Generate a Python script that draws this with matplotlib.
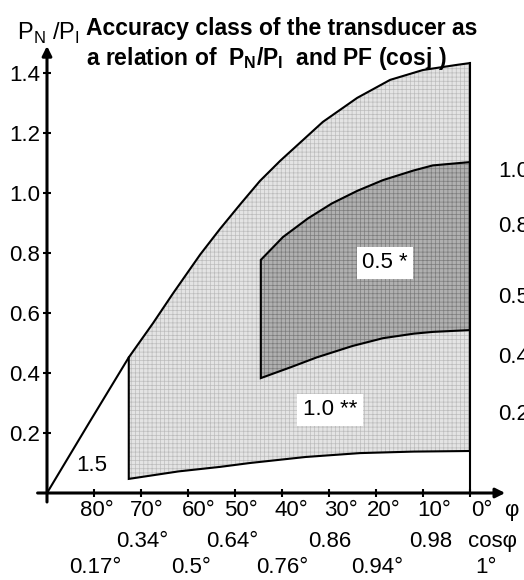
import matplotlib
matplotlib.use("Agg")
import matplotlib.pyplot as plt

plt.rcParams['font.family'] = ['Liberation Sans', 'DejaVu Sans']
plt.rcParams['mathtext.fontset'] = 'custom'
plt.rcParams['mathtext.rm'] = 'Liberation Sans'
plt.rcParams['hatch.linewidth'] = 0.5

# boundary curves (phi in degrees, P_N/P_I)
outer_phi = [90, 81, 72.6, 67.4, 63.2, 57.4, 53.2, 48.9, 44.7, 40.4, 36.2, 31.3, 24, 17, 10, 2.8, 0]
outer_val = [0, 0.235, 0.452, 0.567, 0.665, 0.795, 0.88, 0.962, 1.04, 1.107, 1.167, 1.237, 1.317,
             1.377, 1.41, 1.427, 1.433]

bottom_phi = [72.6, 62, 53.2, 46.8, 35, 23.4, 12, 0]
bottom_val = [0.047, 0.072, 0.087, 0.10, 0.12, 0.133, 0.138, 0.14]

top05_phi = [44.5, 39.8, 34.5, 29.4, 24, 18.5, 12, 7.9, 0]
top05_val = [0.777, 0.853, 0.915, 0.965, 1.007, 1.043, 1.075, 1.092, 1.103]

bot05_phi = [44.5, 38, 32.6, 25, 18.5, 12, 7.9, 0]
bot05_val = [0.383, 0.42, 0.452, 0.49, 0.516, 0.531, 0.537, 0.543]

phi_ticks = [80, 70, 60, 50, 40, 30, 20, 10, 0]
y_ticks = [0.2, 0.4, 0.6, 0.8, 1.0, 1.2, 1.4]
y_labels = ['0.2', '0.4', '0.6', '0.8', '1.0', '1.2', '1.4']

row1_labels = ['80°', '70°', '60°', '50°', '40°', '30°', '20°', '10°', '0°', 'φ']
row1_pos = [79.4, 68.7, 57.7, 48.7, 38.1, 27.4, 18.3, 7.7, -2.6, -8.9]
row2_labels = ['0.34°', '0.64°', '0.86', '0.98', 'cosφ']
row2_pos = [69.8, 50.6, 29.8, 8.3, -4.7]
row3_labels = ['0.17°', '0.5°', '0.76°', '0.94°', '1°']
row3_pos = [79.8, 59.4, 40.0, 19.8, -3.4]

right_labels = ['1.0', '0.8', '0.5', '0.4', '0.2']
right_pos = [1.07, 0.887, 0.653, 0.45, 0.26]

fig = plt.figure(figsize=(5.24, 5.80), dpi=100)
ax = fig.add_axes([0, 0, 1, 1])
ax.set_xlim(100, -11.5)
ax.set_ylim(-0.29, 1.6433)

# light region (class 1.0)
light_x = outer_phi[2:] + bottom_phi[::-1]
light_y = outer_val[2:] + bottom_val[::-1]
ax.fill(light_x, light_y, facecolor='#e4e4e4', edgecolor='#bcbcbc', hatch='++++', lw=0)
ax.fill(light_x, light_y, facecolor='none', edgecolor='k', lw=1.5)

# dark region (class 0.5)
dark_x = top05_phi + bot05_phi[::-1]
dark_y = top05_val + bot05_val[::-1]
ax.fill(dark_x, dark_y, facecolor='#b0b0b0', edgecolor='#7c7c7c', hatch='++++', lw=0)
ax.fill(dark_x, dark_y, facecolor='none', edgecolor='k', lw=1.5)

ax.plot(outer_phi[:3], outer_val[:3], color='k', lw=1.5)
ax.plot([0, 0], [0, outer_val[-1]], color='k', lw=1.5)

# axes with arrows
for s in ax.spines.values():
    s.set_visible(False)
ax.spines['left'].set_position(('data', 90))
ax.spines['bottom'].set_position(('data', 0))
ax.annotate('', xy=(90, 1.49), xytext=(90, -0.03),
            arrowprops=dict(arrowstyle='-|>', lw=2.2, color='k', mutation_scale=14, shrinkA=0, shrinkB=0))
ax.annotate('', xy=(-7.5, 0), xytext=(92, 0),
            arrowprops=dict(arrowstyle='-|>', lw=2.2, color='k', mutation_scale=14, shrinkA=0, shrinkB=0))

ax.set_xticks(phi_ticks)
ax.set_xticklabels([])
ax.set_yticks(y_ticks)
ax.set_yticklabels(y_labels, fontsize=16)
ax.tick_params(direction='inout', length=6, width=1.5, pad=2)

for lab, p in zip(row1_labels, row1_pos):
    ax.text(p, -0.057, lab, ha='center', va='center', fontsize=16)
for lab, p in zip(row2_labels, row2_pos):
    ax.text(p, -0.163, lab, ha='center', va='center', fontsize=16)
for lab, p in zip(row3_labels, row3_pos):
    ax.text(p, -0.25, lab, ha='center', va='center', fontsize=16)
for lab, v in zip(right_labels, right_pos):
    ax.text(-6.0, v, lab, ha='left', va='center', fontsize=16)

box = dict(facecolor='white', edgecolor='none', pad=4)
ax.text(18.1, 0.767, '0.5 *', ha='center', va='center', fontsize=16, bbox=box)
ax.text(29.8, 0.277, '1.0 **', ha='center', va='center', fontsize=16, bbox=box)
ax.text(80.4, 0.09, '1.5', ha='center', va='center', fontsize=16)

ax.text(96.4, 1.533, r'P$_\mathregular{N}$ /P$_\mathregular{I}$', ha='left', va='center', fontsize=17)
ax.text(81.7, 1.527, 'Accuracy class of the transducer as', ha='left', va='baseline',
        fontsize=16.5, fontweight='bold')
ax.text(81.7, 1.427, r'a relation of  P$_\mathregular{N}$/P$_\mathregular{I}$  and PF (cosj )', ha='left',
        va='baseline', fontsize=16.5, fontweight='bold')

plt.savefig("out.png")
plt.close()
